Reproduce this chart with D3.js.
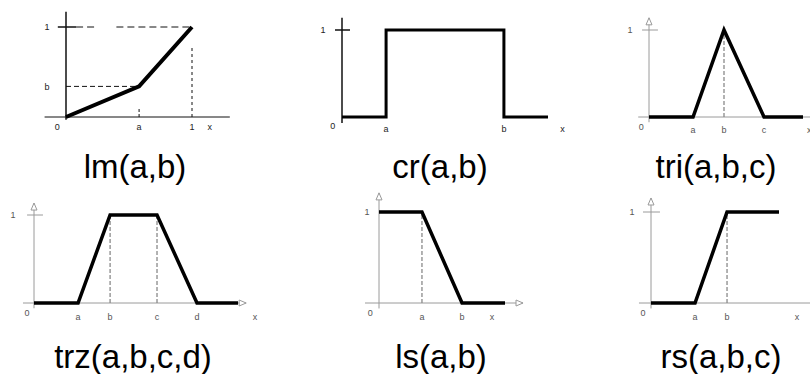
<!DOCTYPE html>
<html><head><meta charset="utf-8">
<script src="https://cdn.jsdelivr.net/npm/d3@7"></script>
<style>html,body{margin:0;padding:0;background:#fff;} svg{display:block;}</style>
</head><body>
<svg id="c" width="810" height="374"></svg>
<script>
// ---- data (function breakpoints in normalised units) ----
const titles = ["lm(a,b)", "cr(a,b)", "tri(a,b,c)", "trz(a,b,c,d)", "ls(a,b)", "rs(a,b,c)"];

const lmX = [0, 0.58, 1],                         lmY = [0, 0.34, 1];
const crX = [0, 0.214, 0.214, 0.786, 0.786, 1],   crY = [0, 0, 1, 1, 0, 0];
const triX = [0, 0.286, 0.487, 0.747, 1],         triY = [0, 0, 1, 0, 0];
const trzX = [0, 0.216, 0.373, 0.603, 0.799, 1],  trzY = [0, 0, 1, 1, 0, 0];
const lsX = [0, 0.341, 0.659, 1],                 lsY = [1, 1, 0, 0];
const rsX = [0, 0.344, 0.594, 1],                 rsY = [0, 0, 1, 1];

// tick labels along x (text, position)
const lmXLabels = ["0", "a", "1", "x"],            lmXPos = [-0.07, 0.58, 1, 1.14];
const lmYLabels = ["1", "b"],                      lmYPos = [1, 0.34];
const crXLabels = ["0", "a", "b", "x"],            crXPos = [-0.045, 0.214, 0.786, 1.07];
const triXLabels = ["0", "a", "b", "c", "x"],      triXPos = [-0.05, 0.286, 0.487, 0.747, 1.04];
const trzXLabels = ["0", "a", "b", "c", "d", "x"], trzXPos = [-0.034, 0.216, 0.373, 0.603, 0.799, 1.083];
const lsXLabels = ["0", "a", "b", "x"],            lsXPos = [-0.07, 0.341, 0.659, 0.897];
const rsXLabels = ["0", "a", "b", "x"],            rsXPos = [-0.0625, 0.344, 0.594, 1.14];
const oneLabel = ["1"], onePos = [1];

// ---- layout ----
const svg = d3.select("#c");
const panels = [
  {title: titles[0], xs: lmX, ys: lmY, xl: lmXLabels, xp: lmXPos, yl: lmYLabels, yp: lmYPos,
   px: [66, 192], py: [117, 27], bw: true, width: 4, xAxis: [-0.17, 1.30], yAxis: [-0.03, 1.17],
   tick: [-0.065, 0.08], dashV: [], zeroDy: 10, letterDy: 10, yLabDx: -19, titleX: 135, titleY: 178},
  {title: titles[1], xs: crX, ys: crY, xl: crXLabels, xp: crXPos, yl: oneLabel, yp: onePos,
   px: [342, 548], py: [117, 30], bw: true, width: 3, xAxis: null, yAxis: [-0.07, 1.14],
   tick: [-0.034, 0.039], dashV: [], zeroDy: 9, letterDy: 12, yLabDx: -19, titleX: 440, titleY: 178},
  {title: titles[2], xs: triX, ys: triY, xl: triXLabels, xp: triXPos, yl: oneLabel, yp: onePos,
   px: [649, 803], py: [117, 30], bw: false, width: 3.5, xAxis: [-0.07, 1.2], yAxis: [-0.06, 1.14],
   tick: [-0.045, 0.058], dashV: [0.487], zeroDy: 10, letterDy: 13, yLabDx: -19, titleX: 716, titleY: 178},
  {title: titles[3], xs: trzX, ys: trzY, xl: trzXLabels, xp: trzXPos, yl: oneLabel, yp: onePos,
   px: [34, 238], py: [303, 215], bw: false, width: 3.5, xAxis: [-0.054, 1.04], yAxis: [-0.06, 1.136],
   tick: [-0.034, 0.044], dashV: [0.373, 0.603], zeroDy: 10, letterDy: 14, yLabDx: -21, titleX: 133, titleY: 368},
  {title: titles[4], xs: lsX, ys: lsY, xl: lsXLabels, xp: lsXPos, yl: oneLabel, yp: onePos,
   px: [379, 505], py: [303, 212], bw: false, width: 3.5, xAxis: [-0.111, 1.143], yAxis: [-0.06, 1.21],
   tick: null, dashV: [0.341], zeroDy: 10, letterDy: 14, yLabDx: -12, titleX: 441, titleY: 368},
  {title: titles[5], xs: rsX, ys: rsY, xl: rsXLabels, xp: rsXPos, yl: oneLabel, yp: onePos,
   px: [651, 779], py: [303, 212], bw: false, width: 3.5, xAxis: [-0.094, 1.4], yAxis: [-0.06, 1.154],
   tick: [-0.0625, 0.07], dashV: [0.594], zeroDy: 10, letterDy: 14, yLabDx: -19, titleX: 721, titleY: 368}
];

panels.forEach((p, i) => {
  const x = d3.scaleLinear().domain([0, 1]).range(p.px);
  const y = d3.scaleLinear().domain([0, 1]).range(p.py);
  const g = svg.append("g");
  const axCol = p.bw ? "#111" : "#9a9a9a";
  const txtCol = p.bw ? "#222" : "#555";

  // x axis
  if (p.xAxis) {
    g.append("line").attr("x1", x(p.xAxis[0])).attr("x2", x(p.xAxis[1]))
      .attr("y1", y(0)).attr("y2", y(0)).attr("stroke", axCol).attr("stroke-width", 1);
    if (!p.bw) {
      const xe = x(p.xAxis[1]), yb = y(0);
      g.append("path").attr("d", d3.line()([[xe - 7, yb - 3], [xe, yb], [xe - 7, yb + 3]]) + "Z")
        .attr("fill", "#fff").attr("stroke", axCol).attr("stroke-width", 1);
    }
  }
  // y axis
  g.append("line").attr("x1", x(0)).attr("x2", x(0))
    .attr("y1", y(p.yAxis[0])).attr("y2", y(p.yAxis[1]))
    .attr("stroke", axCol).attr("stroke-width", p.bw ? 1.5 : 1);
  if (!p.bw) {
    const xo = x(0), yt = y(p.yAxis[1]);
    g.append("path").attr("d", d3.line()([[xo - 3, yt + 7], [xo, yt], [xo + 3, yt + 7]]) + "Z")
      .attr("fill", "#fff").attr("stroke", axCol).attr("stroke-width", 1);
  }
  // tick at y = 1
  if (p.tick) {
    g.append("line").attr("x1", x(p.tick[0])).attr("x2", x(p.tick[1]))
      .attr("y1", y(1)).attr("y2", y(1)).attr("stroke", axCol).attr("stroke-width", p.bw ? 1.5 : 1);
  }
  // helper lines for lm panel
  if (i === 0) {
    const dl = [
      {x1: 0.08, x2: 0.23, y1: 1, y2: 1, dash: "7,4"},
      {x1: 0.40, x2: 1, y1: 1, y2: 1, dash: "7,4"},
      {x1: 0, x2: lmX[1], y1: lmY[1], y2: lmY[1], dash: "5,3"},
      {x1: 1, x2: 1, y1: 0, y2: 0.77, dash: "3,3"},
      {x1: lmX[1], x2: lmX[1], y1: 0, y2: 0.1, dash: "3,2"}
    ];
    g.selectAll(".dl").data(dl).join("line")
      .attr("x1", d => x(d.x1)).attr("x2", d => x(d.x2))
      .attr("y1", d => y(d.y1)).attr("y2", d => y(d.y2))
      .attr("stroke", "#111").attr("stroke-width", 1).attr("stroke-dasharray", d => d.dash);
  }
  // dashed verticals
  g.selectAll(".dv").data(p.dashV).join("line")
    .attr("x1", d => x(d)).attr("x2", d => x(d))
    .attr("y1", y(0)).attr("y2", y(1))
    .attr("stroke", "#8a8a8a").attr("stroke-width", 1.3).attr("stroke-dasharray", "4,2");

  // curve
  const pts = p.xs.map((v, k) => [x(v), y(p.ys[k])]);
  g.append("path").attr("d", d3.line()(pts))
    .attr("fill", "none").attr("stroke", "#000").attr("stroke-width", p.width)
    .attr("stroke-linejoin", "miter").attr("stroke-linecap", "butt");

  // x labels
  g.selectAll(".xl").data(p.xl).join("text")
    .attr("x", (d, k) => x(p.xp[k]))
    .attr("y", (d, k) => y(0) + (k === 0 ? p.zeroDy : p.letterDy))
    .attr("dy", "0.35em").attr("text-anchor", "middle")
    .attr("font-family", "Liberation Sans, Arial, sans-serif").attr("font-size", 9)
    .attr("fill", txtCol).text(d => d);
  // y labels
  g.selectAll(".yl").data(p.yl).join("text")
    .attr("x", x(0) + p.yLabDx)
    .attr("y", (d, k) => y(p.yp[k]))
    .attr("dy", "0.35em").attr("text-anchor", "middle")
    .attr("font-family", "Liberation Sans, Arial, sans-serif").attr("font-size", 9)
    .attr("fill", txtCol).text(d => d);

  // title
  svg.append("text").attr("x", p.titleX).attr("y", p.titleY)
    .attr("text-anchor", "middle")
    .attr("font-family", "Liberation Sans, Arial, Helvetica, sans-serif")
    .attr("font-size", 33).attr("fill", "#000").text(p.title);
});
</script>
</body></html>
